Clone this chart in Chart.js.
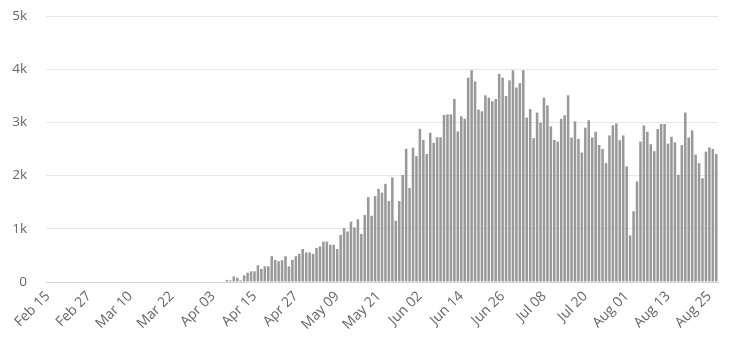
<!DOCTYPE html>
<html>
<head>
<meta charset="utf-8">
<script src="https://cdn.jsdelivr.net/npm/chart.js@4"></script>
<style>
  html, body { margin: 0; padding: 0; background: #fff; }
  #wrap { width: 730px; height: 355px; }
</style>
</head>
<body>
<div id="wrap"><canvas id="dailyChart"></canvas></div>
<script>
// daily values, one per day starting Feb 15 (2020)
const startDay = '2020-02-15';
const monthNames = ['Jan','Feb','Mar','Apr','May','Jun','Jul','Aug','Sep','Oct','Nov','Dec'];
const yTicks = [0, 1000, 2000, 3000, 4000, 5000];

const leadingZeros = new Array(52).fill(0); // Feb 15 - Apr 06, nothing reported
const dailyValues = leadingZeros.concat([
    40, 30, 105, 80, 30, 125, 175, 200, 200, 315,
    245, 295, 295, 485, 415, 390, 410, 485, 295, 415,
    485, 530, 620, 555, 555, 530, 640, 670, 760, 760,
    700, 700, 620, 885, 1015, 950, 1135, 1025, 1180, 905,
    1260, 1595, 1245, 1615, 1750, 1680, 1845, 1520, 1965, 1150,
    1520, 2010, 2505, 1765, 2525, 2365, 2880, 2670, 2405, 2805,
    2615, 2720, 2720, 3140, 3150, 3150, 3440, 2830, 3115, 3070,
    3840, 3980, 3770, 3240, 3210, 3510, 3465, 3400, 3440, 3910,
    3840, 3495, 3790, 3980, 3655, 3740, 3980, 3090, 3250, 2705,
    3185, 2995, 3465, 3320, 2925, 2670, 2640, 3065, 3135, 3510,
    2715, 3020, 2690, 2435, 2900, 3040, 2715, 2825, 2575, 2500,
    2235, 2755, 2945, 2980, 2665, 2755, 2175, 875, 1330, 1890,
    2640, 2945, 2825, 2590, 2460, 2875, 2970, 2970, 2600, 2730,
    2625, 2015, 2575, 3185, 2715, 2850, 2395, 2235, 1950, 2450,
    2530, 2500, 2405
]);

// category labels "Feb 15", "Feb 16", ...
const dayLabels = [];
const d0 = new Date(startDay + 'T00:00:00');
for (let i = 0; i < dailyValues.length; i++) {
    const d = new Date(d0.getFullYear(), d0.getMonth(), d0.getDate() + i);
    dayLabels.push(monthNames[d.getMonth()] + ' ' + String(d.getDate()).padStart(2, '0'));
}

Chart.defaults.font.family = "'Open Sans', sans-serif";
Chart.defaults.color = '#666666';

var ctx = document.getElementById('dailyChart').getContext('2d');
new Chart(ctx, {
    type: 'bar',
    data: {
        labels: dayLabels,
        datasets: [{
            data: dailyValues,
            backgroundColor: '#999999',
            borderWidth: 0,
            barPercentage: 0.74,
            categoryPercentage: 1
        }]
    },
    options: {
        responsive: true,
        maintainAspectRatio: false,
        animation: false,
        layout: { padding: { top: 16, right: 12, left: 0, bottom: 0 } },
        plugins: {
            legend: { display: false },
            tooltip: { enabled: false }
        },
        scales: {
            x: {
                grid: { display: false, drawTicks: false },
                border: { display: true, color: '#ccd6eb', width: 1 },
                ticks: {
                    autoSkip: false,
                    minRotation: 45,
                    maxRotation: 45,
                    padding: 6,
                    font: { size: 14 },
                    callback: function (value, index) {
                        return index % 12 === 0 ? this.getLabelForValue(value) : null;
                    }
                },
                afterFit: function (scale) { scale.height = 73; }
            },
            y: {
                min: 0,
                max: 5000,
                afterBuildTicks: function (scale) {
                    scale.ticks = yTicks.map(v => ({ value: v }));
                },
                // invisible tick marks push the labels away from the plot
                grid: { color: '#e6e6e6', drawTicks: true, tickLength: 19, tickColor: 'rgba(0,0,0,0)' },
                border: { display: false },
                ticks: {
                    padding: 0,
                    font: { size: 13.5 },
                    callback: v => v === 0 ? '0' : (v / 1000) + 'k'
                },
                afterFit: function (scale) { scale.width = 46; }
            }
        }
    }
});
</script>
</body>
</html>
